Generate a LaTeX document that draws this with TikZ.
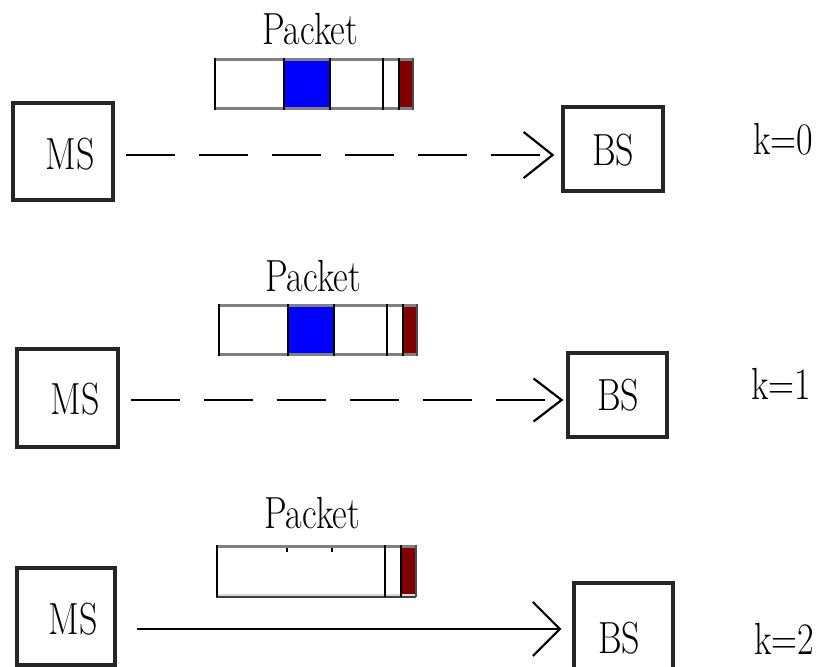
\documentclass[tikz,border=0pt]{standalone}
\usepackage{graphicx}
\usetikzlibrary{arrows.meta}
% tall, narrow lettering
\newcommand{\tallstretch}[1]{\scalebox{1}[1.25]{#1}}

\tikzset{
  % packet with payload (blue) and trailer (dark red) fields
  packet bar/.pic={
    \fill[white] (0,0) rectangle (200,52);
    \fill[blue] (70,0) rectangle (116,52);
    \fill[red!50!black] (185,0) rectangle (199,52);
    \draw[gray, line width=3pt] (0,1.5) -- (200,1.5) (0,50.5) -- (200,50.5);
    \draw[black, line width=2.5pt] (1.2,0) -- (1.2,52) (70,0) -- (70,52)
      (116,0) -- (116,52) (169,0) -- (169,52) (185,0) -- (185,52);
    \draw[black!70, line width=2.5pt] (199,0) -- (199,52);
  },
  % packet whose payload field has been emptied
  spent bar/.pic={
    \fill[white] (0,0) rectangle (200,52);
    \fill[red!50!black] (185,0) rectangle (200,52);
    \draw[gray, line width=3pt] (0,1.5) -- (200,1.5);
    \draw[black!15, line width=3pt] (0,50) -- (200,50);
    \draw[black!75, line width=2pt] (0,52) -- (200,52);
    \draw[black, line width=2.5pt] (1.2,0) -- (1.2,52)
      (169,0) -- (169,52) (185,0) -- (185,52);
    \draw[black!70, line width=2pt] (200,0) -- (200,52);
    \draw[black, line width=1.5pt] (71,3) -- (71,7) (116,3) -- (116,7);
  }
}

\begin{document}
\begin{tikzpicture}[x=1pt,y=-1pt,
  station/.style={draw=black!85, line width=3.2pt, inner sep=0pt},
  txt/.style={inner sep=0pt, font=\fontsize{36}{40}\selectfont},
  link/.style 2 args={line width=2.6pt, line cap=butt,
    -{Straight Barb[length=#1pt,width=#2pt,line width=2.2pt]}},
  gapped/.style={dash pattern=on 49pt off 24pt}
]
\useasboundingbox[fill=white] (0,0) rectangle (818,666);

% ---------------- k = 0 ----------------
\node[txt] (pl1) at (310,29) {\tallstretch{Packet}};
\pic (bar1) at (214,58) {packet bar};
\node[station, minimum width=100pt, minimum height=97pt] (ms1) at (63,151.5) {};
\node[txt] (ms1t) at (70,154) {\tallstretch{MS}};
\node[station, minimum width=100pt, minimum height=84pt] (bs1) at (613,149) {};
\node[txt] (bs1t) at (613,150) {\tallstretch{BS}};
\node[txt] (k0) at (783,139) {\tallstretch{k=0}};
\coordinate (lane1) at (0,155);
\draw[link={29}{46}, gapped, shorten <=11pt, shorten >=7pt]
  (ms1.east |- lane1) -- (bs1.west |- lane1);

% ---------------- k = 1 ----------------
\node[txt] (pl2) at (313,276) {\tallstretch{Packet}};
\pic (bar2) at (218,304) {packet bar};
\node[station, minimum width=101pt, minimum height=98pt] (ms2) at (67.5,398) {};
\node[txt] (ms2t) at (75,399) {\tallstretch{MS}};
\node[station, minimum width=99pt, minimum height=84pt] (bs2) at (617.5,395) {};
\node[txt] (bs2t) at (618,395) {\tallstretch{BS}};
\node[txt] (k1) at (781,384) {\tallstretch{k=1}};
\coordinate (lane2) at (0,400);
\draw[link={28}{43}, gapped, shorten <=11pt, shorten >=3pt]
  (ms2.east |- lane2) -- (bs2.west |- lane2);

% ---------------- k = 2 ----------------
\node[txt] (pl3) at (312,513) {\tallstretch{Packet}};
\pic (bar3) at (216,545) {spent bar};
\node[station, minimum width=98pt, minimum height=97pt] (ms3) at (66,616.5) {};
\node[txt] (ms3t) at (73,619) {\tallstretch{MS}};
\node[station, minimum width=99pt, minimum height=90pt] (bs3) at (623.5,628) {};
\node[txt] (bs3t) at (619,638) {\tallstretch{BS}};
\node[txt] (k2) at (784,639) {\tallstretch{k=2}};
\coordinate (lane3) at (0,629);
\draw[link={27}{54}, shorten <=20pt, shorten >=11pt]
  (ms3.east |- lane3) -- (bs3.west |- lane3);
\end{tikzpicture}
\end{document}
